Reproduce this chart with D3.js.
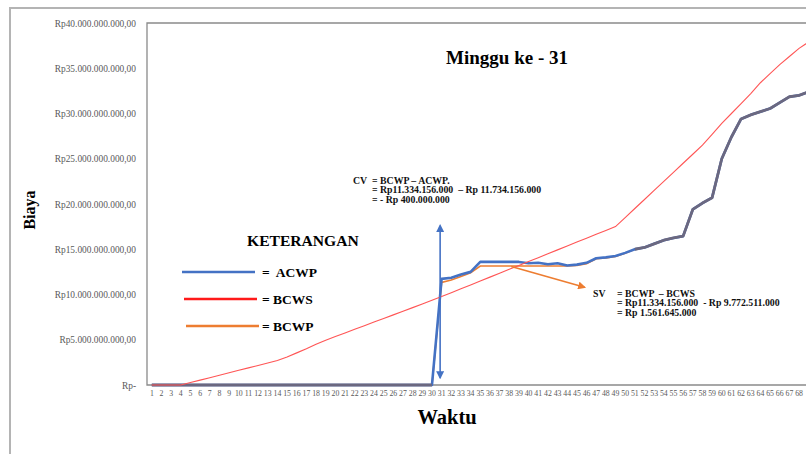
<!DOCTYPE html>
<html>
<head>
<meta charset="utf-8">
<script src="https://cdn.jsdelivr.net/npm/d3@7"></script>
<style>
  body { margin: 0; background: #fff; }
  text { font-family: "Liberation Serif", "Times New Roman", serif; white-space: pre; }
</style>
</head>
<body>
<div id="container"></div>
<script>
/* CONSTANTS AND GLOBALS */
const width = 806,
  height = 454,
  margin = { top: 23, left: 147, bottom: 69 },
  step = 9.66;

/* DATA */
// weeks (minggu ke-)
const weeks = d3.range(1, 70);
const lastLabelWeek = 68;

// BCWS - rencana (Rp milyar)
const bcws = [
  0, 0, 0, 0, 0.27, 0.54, 0.81, 1.08, 1.35, 1.62,
  1.89, 2.16, 2.43, 2.7, 3.1, 3.55, 4.0, 4.5, 4.95, 5.35,
  5.75, 6.15, 6.55, 6.95, 7.35, 7.75, 8.15, 8.55, 8.95, 9.37,
  9.77, 10.2, 10.63, 11.06, 11.49, 11.92, 12.35, 12.78, 13.21, 13.64,
  14.07, 14.5, 14.93, 15.36, 15.79, 16.22, 16.65, 17.08, 17.5, 18.5,
  19.5, 20.5, 21.5, 22.5, 23.5, 24.5, 25.5, 26.5, 27.7, 28.9,
  30.0, 31.1, 32.2, 33.4, 34.4, 35.4, 36.3, 37.2, 37.9
];

// ACWP - biaya aktual (Rp milyar)
const acwp = [
  0, 0, 0, 0, 0, 0, 0, 0, 0, 0,
  0, 0, 0, 0, 0, 0, 0, 0, 0, 0,
  0, 0, 0, 0, 0, 0, 0, 0, 0, 0,
  11.73, 11.85, 12.2, 12.5, 13.6, 13.6, 13.6, 13.6, 13.6, 13.45,
  13.5, 13.35, 13.45, 13.2, 13.3, 13.5, 14.0, 14.1, 14.25, 14.6,
  15.0, 15.2, 15.6, 16.0, 16.25, 16.45, 19.4, 20.1, 20.7, 25.0,
  27.4, 29.4, 29.85, 30.2, 30.55, 31.2, 31.85, 32.0, 32.4
];

// BCWP - nilai hasil (Rp milyar)
const bcwp = [
  0, 0, 0, 0, 0, 0, 0, 0, 0, 0,
  0, 0, 0, 0, 0, 0, 0, 0, 0, 0,
  0, 0, 0, 0, 0, 0, 0, 0, 0, 0,
  11.33, 11.6, 12.0, 12.4, 13.15, 13.15, 13.15, 13.15, 13.15, 13.15,
  13.15, 13.15, 13.15, 13.15, 13.2, 13.4, 13.95, 14.05, 14.2, 14.55,
  15.0, 15.2, 15.6, 16.0, 16.25, 16.45, 19.4, 20.1, 20.7, 25.0,
  27.4, 29.4, 29.85, 30.2, 30.55, 31.2, 31.85, 32.0, 32.4
];

const yTicks = [0, 5, 10, 15, 20, 25, 30, 35, 40];

const cvLines = ["= BCWP \u2013 ACWP.", "= Rp11.334.156.000  \u2013 Rp 11.734.156.000", "= - Rp 400.000.000"];
const svLines = ["= BCWP  \u2013 BCWS", "= Rp11.334.156.000  - Rp 9.772.511.000", "= Rp 1.561.645.000"];

const legendItems = [
  { label: "=  ACWP", color: "#4472c4" },
  { label: "= BCWS", color: "#ff1a1a" },
  { label: "= BCWP", color: "#ed7d31" }
];

const rows = weeks.map((w, i) => ({ w, bcws: bcws[i], acwp: acwp[i], bcwp: bcwp[i] }));

/* SCALES */
const xScale = d3.scaleBand()
  .domain(weeks)
  .range([margin.left, margin.left + weeks.length * step]);

const xc = w => xScale(w) + xScale.bandwidth() / 2;

const yScale = d3.scaleLinear()
  .domain([0, 40])
  .range([height - margin.bottom, margin.top]);

const idLocale = d3.formatLocale({ decimal: ",", thousands: ".", grouping: [3], currency: ["Rp", ""] });
const rp = idLocale.format("$,.2f");

/* HTML ELEMENTS */
const svg = d3.select("#container")
  .append("svg")
  .attr("width", width)
  .attr("height", height);

// outer frame
svg.append("rect")
  .attr("x", 10).attr("y", 8)
  .attr("width", 900).attr("height", 600)
  .attr("fill", "none")
  .attr("stroke", "#b4b4b4")
  .attr("stroke-width", 2);

// plot frame
svg.append("path")
  .attr("d", `M${width + 10},${margin.top}H${margin.left}V${yScale(0)}H${width + 10}`)
  .attr("fill", "none")
  .attr("stroke", "#8a8a8a")
  .attr("stroke-width", 1.3);

// axes
const yAxis = d3.axisLeft(yScale)
  .tickValues(yTicks)
  .tickSize(0)
  .tickPadding(11)
  .tickFormat(d => d === 0 ? "Rp-" : rp(d * 1e9));
svg.append("g")
  .attr("transform", `translate(${margin.left}, 0)`)
  .call(yAxis)
  .call(g => g.select(".domain").remove())
  .selectAll("text")
  .attr("font-size", 9.4)
  .attr("fill", "#595959");

const xAxis = d3.axisBottom(xScale)
  .tickValues(weeks.filter(w => w <= lastLabelWeek))
  .tickSize(0)
  .tickPadding(5);
svg.append("g")
  .attr("transform", `translate(0, ${yScale(0)})`)
  .call(xAxis)
  .call(g => g.select(".domain").remove())
  .selectAll("text")
  .attr("font-size", 7.8)
  .attr("fill", "#595959");

// axis titles
svg.append("text")
  .attr("transform", `translate(35, 210) rotate(-90)`)
  .attr("text-anchor", "middle")
  .attr("font-weight", "bold")
  .attr("font-size", 16)
  .text("Biaya");

svg.append("text")
  .attr("x", 447).attr("y", 424)
  .attr("text-anchor", "middle")
  .attr("font-weight", "bold")
  .attr("font-size", 20.5)
  .text("Waktu");

svg.append("text")
  .attr("x", 507).attr("y", 64)
  .attr("text-anchor", "middle")
  .attr("font-weight", "bold")
  .attr("font-size", 19)
  .text("Minggu ke - 31");

/* DRAW LINES */
const line = key => d3.line()
  .x(d => xc(d.w))
  .y(d => yScale(d[key]));

svg.append("path")
  .datum(rows)
  .attr("d", line("bcwp"))
  .attr("fill", "none")
  .attr("stroke", "#ed7d31")
  .attr("stroke-width", 1.6);

svg.append("path")
  .datum(rows)
  .attr("d", line("acwp"))
  .attr("fill", "none")
  .attr("stroke", "#4472c4")
  .attr("stroke-width", 2.6)
  .attr("stroke-linejoin", "round");

// where ACWP and BCWP coincide the two lines read as one grey-purple line
svg.append("path")
  .datum(rows)
  .attr("d", line("acwp").defined(d => d.acwp === d.bcwp))
  .attr("fill", "none")
  .attr("stroke", "#6b6880")
  .attr("stroke-width", 2.8)
  .attr("stroke-linejoin", "round");

svg.append("path")
  .datum(rows)
  .attr("d", line("bcws"))
  .attr("fill", "none")
  .attr("stroke", "#ff5555")
  .attr("stroke-width", 1.1);

/* ANNOTATIONS */
const defs = svg.append("defs");
const marker = (id, color) => defs.append("marker")
  .attr("id", id)
  .attr("viewBox", "0 0 10 10")
  .attr("refX", 8).attr("refY", 5)
  .attr("markerWidth", 5).attr("markerHeight", 5)
  .attr("orient", "auto-start-reverse")
  .append("path")
  .attr("d", "M0,0L10,5L0,10z")
  .attr("fill", color);
marker("arrBlue", "#4472c4");
marker("arrOrange", "#ed7d31");

// CV arrow at week 31
svg.append("line")
  .attr("x1", xc(31) - 1.5).attr("x2", xc(31) - 1.5)
  .attr("y1", yScale(17.6)).attr("y2", yScale(0.8))
  .attr("stroke", "#4472c4")
  .attr("stroke-width", 1.6)
  .attr("marker-start", "url(#arrBlue)")
  .attr("marker-end", "url(#arrBlue)");

// SV arrow
svg.append("line")
  .attr("x1", xc(38) + 2).attr("y1", yScale(13.1))
  .attr("x2", xc(46) - 2).attr("y2", yScale(10.8))
  .attr("stroke", "#ed7d31")
  .attr("stroke-width", 1.6)
  .attr("marker-end", "url(#arrOrange)");

const note = (x0, xl, y0, head, lines) => {
  const g = svg.append("g")
    .attr("font-weight", "bold")
    .attr("font-size", 9.8)
    .attr("fill", "#111");
  g.append("text").attr("x", x0).attr("y", y0).text(head);
  g.selectAll(".ln")
    .data(lines)
    .join("text")
    .attr("x", xl)
    .attr("y", (d, i) => y0 + i * 9.6)
    .text(d => d);
};
note(353, 372, 183.5, "CV", cvLines);
note(593, 617, 296.5, "SV", svLines);

/* LEGEND */
svg.append("text")
  .attr("x", 247).attr("y", 246)
  .attr("font-weight", "bold")
  .attr("font-size", 15.6)
  .text("KETERANGAN");

const leg = svg.selectAll(".leg")
  .data(legendItems)
  .join("g")
  .attr("transform", (d, i) => `translate(0, ${272 + i * 27})`);
leg.append("line")
  .attr("x1", (d, i) => 182 + i * 2).attr("x2", (d, i) => 255 + i * 2)
  .attr("stroke", d => d.color)
  .attr("stroke-width", 2.6);
leg.append("text")
  .attr("x", 262).attr("y", 4.5)
  .attr("font-weight", "bold")
  .attr("font-size", 13.5)
  .text(d => d.label);
</script>
</body>
</html>
